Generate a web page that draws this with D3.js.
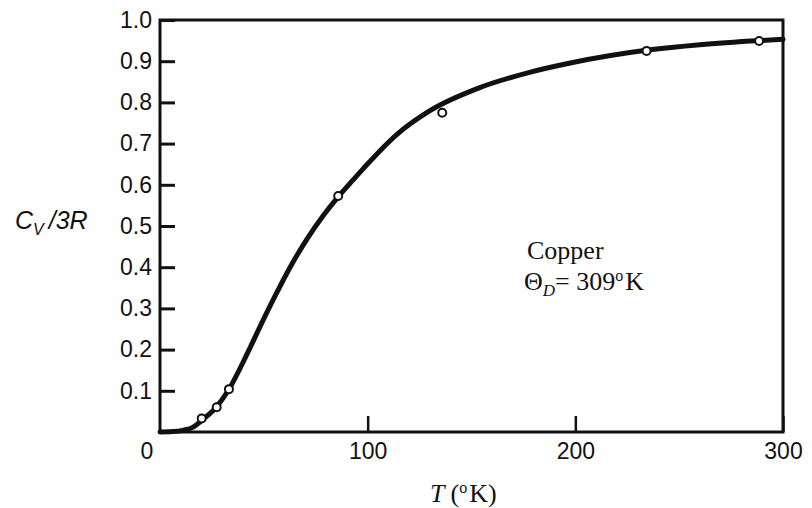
<!DOCTYPE html>
<html>
<head>
<meta charset="utf-8">
<script src="https://cdn.jsdelivr.net/npm/d3@7"></script>
<style>
  body { margin: 0; background: #fff; }
  text { fill: #111; }
</style>
</head>
<body>
<svg width="812" height="508"></svg>
<script>
// curve (T in K, Cv/3R)
var curveT = [0, 6, 11, 16, 20, 27, 33, 42, 48, 55, 63, 71, 79, 86, 93, 98, 114, 130, 154, 178, 197, 235, 260, 289, 300];
var curveV = [0, 0.001, 0.004, 0.012, 0.028, 0.060, 0.102, 0.190, 0.254, 0.326, 0.403, 0.470, 0.528, 0.572, 0.612, 0.640, 0.722, 0.780, 0.836, 0.873, 0.895, 0.927, 0.940, 0.950, 0.953];

// measured points (open circles)
var pointT = [20.1, 27.3, 33.2, 85.8, 135.9, 234.3, 288.5];
var pointV = [0.033, 0.060, 0.104, 0.573, 0.775, 0.925, 0.949];

var xTicks = [100, 200, 300];
var yTicks = [0.1, 0.2, 0.3, 0.4, 0.5, 0.6, 0.7, 0.8, 0.9, 1.0];

var svg = d3.select("svg"),
    margin = {top: 20, right: 29, bottom: 76, left: 160},
    width = +svg.attr("width") - margin.left - margin.right,
    height = +svg.attr("height") - margin.top - margin.bottom,
    g = svg.append("g").attr("transform", "translate(" + margin.left + "," + margin.top + ")");

var x = d3.scaleLinear().domain([0, 300]).range([0, width]);
var y = d3.scaleLinear().domain([0, 1]).range([height, 0]);

var tickFont = "'Liberation Sans', Arial, sans-serif";
var serif = "'Liberation Serif', 'Times New Roman', serif";

// y axis, ticks pointing inward
var yAxis = g.append("g")
    .call(d3.axisLeft(y).tickValues(yTicks).tickSize(-15).tickPadding(8)
      .tickFormat(d3.format(".1f")));
yAxis.select(".domain").remove();
yAxis.selectAll(".tick line").attr("stroke", "#111").attr("stroke-width", 3);
yAxis.selectAll(".tick text")
    .attr("font-family", tickFont)
    .attr("font-size", 23)
    .style("fill", "#111");

// x axis
var xAxis = g.append("g")
    .attr("transform", "translate(0," + height + ")")
    .call(d3.axisBottom(x).tickValues(xTicks).tickSize(-16).tickPadding(11));
xAxis.select(".domain").remove();
xAxis.selectAll(".tick line").attr("stroke", "#111").attr("stroke-width", 2.5);
xAxis.selectAll(".tick text")
    .attr("font-family", tickFont)
    .attr("font-size", 23)
    .style("fill", "#111");

// shared origin label
g.append("text")
    .attr("x", -13)
    .attr("y", height + 11)
    .attr("dy", "0.71em")
    .attr("text-anchor", "middle")
    .attr("font-family", tickFont)
    .attr("font-size", 23)
    .text("0");

// frame
g.append("rect")
    .attr("x", 0)
    .attr("y", 0)
    .attr("width", width)
    .attr("height", height)
    .attr("fill", "none")
    .attr("stroke", "#111")
    .attr("stroke-width", 3);

// curve
var curveData = curveT.map(function(t, i) { return {t: t, v: curveV[i]}; });
var line = d3.line()
    .x(function(d) { return x(d.t); })
    .y(function(d) { return y(d.v); })
    .curve(d3.curveMonotoneX);

g.append("path")
    .datum(curveData)
    .attr("d", line)
    .attr("fill", "none")
    .attr("stroke", "#111")
    .attr("stroke-width", 5)
    .attr("stroke-linecap", "round");

// points
g.selectAll("circle")
    .data(pointT.map(function(t, i) { return {t: t, v: pointV[i]}; }))
  .enter().append("circle")
    .attr("cx", function(d) { return x(d.t); })
    .attr("cy", function(d) { return y(d.v); })
    .attr("r", 4)
    .attr("fill", "#fff")
    .attr("stroke", "#111")
    .attr("stroke-width", 2);

// y label  C_V /3R
var yl = svg.append("text")
    .attr("x", 15)
    .attr("y", 229)
    .attr("font-family", tickFont)
    .attr("font-style", "italic")
    .attr("font-size", 25);
yl.append("tspan").text("C");
yl.append("tspan").attr("dy", 6).attr("font-size", 16).text("V");
yl.append("tspan").attr("dy", -6).attr("dx", 5).text("/3R");

// x label  T (°K)
var xl = svg.append("text")
    .attr("x", 430)
    .attr("y", 502)
    .attr("font-family", serif)
    .attr("font-size", 26);
xl.append("tspan").attr("font-style", "italic").text("T");
xl.append("tspan").attr("dx", 6).text("(");
xl.append("tspan").attr("dy", -9).attr("font-size", 16).text("o");
xl.append("tspan").attr("dy", 9).attr("dx", 2).text("K)");

// annotation
svg.append("text")
    .attr("x", 527)
    .attr("y", 259)
    .attr("font-family", serif)
    .attr("font-size", 26)
    .text("Copper");

var th = svg.append("text")
    .attr("x", 524)
    .attr("y", 290)
    .attr("font-family", serif)
    .attr("font-size", 26);
th.append("tspan").text("Θ");
th.append("tspan").attr("dy", 6).attr("font-size", 17).attr("font-style", "italic").text("D");
th.append("tspan").attr("dy", -6).text("= 309");
th.append("tspan").attr("dy", -9).attr("font-size", 16).text("o");
th.append("tspan").attr("dy", 9).attr("dx", 2).text("K");
</script>
</body>
</html>
